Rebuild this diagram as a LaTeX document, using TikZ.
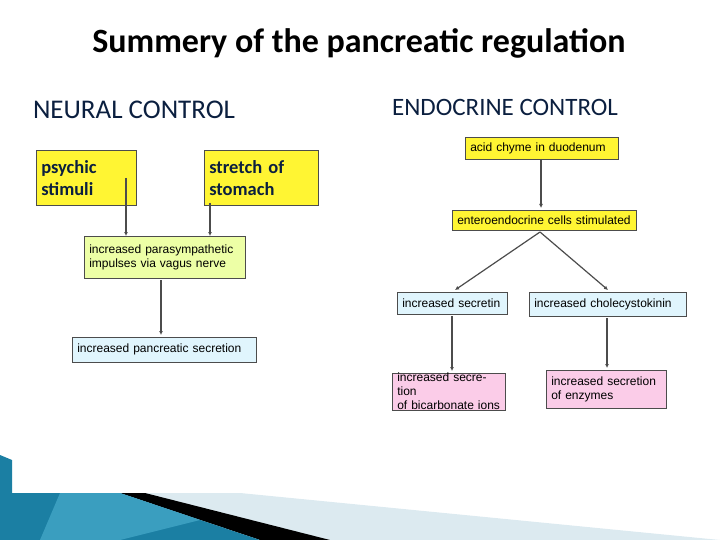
\documentclass[tikz,border=0pt]{standalone}
\usepackage{fontspec}
\setmainfont{Liberation Sans}
\newfontfamily\calfont{Carlito}
\usetikzlibrary{arrows.meta}
\definecolor{navy}{HTML}{0B1F3F}
\definecolor{teal1}{HTML}{1B7FA3}
\definecolor{teal2}{HTML}{4FB3D3}
\definecolor{pale}{HTML}{DCEAF0}
\begin{document}
\begin{tikzpicture}[x=1pt,y=-1pt,
 bx/.style={draw=black!70,line width=0.5pt,anchor=north west,inner xsep=5pt,inner ysep=0pt,font=\fontsize{12}{14}\selectfont,align=left},
 yel/.style={fill=yellow!80!white},
 grn/.style={fill=green!20!yellow!35!white},
 blu/.style={fill=cyan!12!white},
 pnk/.style={fill=magenta!20!white},
 big/.style={font=\calfont\bfseries\fontsize{18.5}{22}\selectfont,text=navy,align=left},
 ar/.style={draw=black!70,line width=1.2pt,-{Latex[length=4pt,width=4pt]}}]
\useasboundingbox (0,0) rectangle (720,540);
% decoration
\fill[pale] (120,493) -- (240,493) -- (720,540) -- (330,540) -- cycle;
\fill[black] (120,493) -- (145,493) -- (330,540) -- (260,540) -- cycle;
\fill[teal1] (0,455) -- (12,460) -- (12,493) -- (120,493) -- (260,540) -- (0,540) -- cycle;
\fill[teal2,opacity=0.6] (60,493) -- (120,493) -- (200,520) -- (120,540) -- (40,540) -- cycle;
% titles
\node[font=\calfont\bfseries\fontsize{34}{40}\selectfont] (title) at (359,43) {Summery of the pancreatic regulation};
\node[font=\calfont\fontsize{27}{32}\selectfont,text=navy] (nc) at (134,110) {NEURAL CONTROL};
\node[font=\calfont\fontsize{25}{30}\selectfont,text=navy] (ec) at (505,107) {ENDOCRINE CONTROL};
% neural
\node[bx,yel,big,minimum width=100pt,minimum height=55pt,text width=90pt] (ps) at (36,150) {psychic\\stimuli};
\node[bx,yel,big,minimum width=114pt,minimum height=55pt,text width=104pt] (st) at (204,150) {stretch of\\stomach};
\node[bx,grn,minimum width=161pt,minimum height=42pt,text width=151pt] (pa) at (84,236) {increased parasympathetic\\impulses via vagus nerve};
\node[bx,blu,minimum width=184pt,minimum height=25pt,text width=174pt] (pc) at (72,337) {increased pancreatic secretion};
% endocrine
\node[bx,yel,minimum width=153pt,minimum height=22pt,text width=143pt] (ac) at (465,137) {acid chyme in duodenum};
\node[bx,yel,minimum width=184pt,minimum height=20pt,text width=174pt] (en) at (452,210) {enteroendocrine cells stimulated};
\node[bx,blu,minimum width=110pt,minimum height=22pt,text width=100pt] (se) at (397,292) {increased secretin};
\node[bx,blu,minimum width=157pt,minimum height=24pt,text width=147pt] (cc) at (529,292) {increased cholecystokinin};
\node[bx,pnk,minimum width=113pt,minimum height=36pt,text width=103pt] (bi) at (392,373) {increased secretion\\of bicarbonate ions};
\node[bx,pnk,minimum width=120pt,minimum height=38pt,text width=110pt] (ez) at (546,370) {increased secretion\\of enzymes};
% connectors
\coordinate (p1) at (126,178);
\coordinate (s1) at (210,203);
\coordinate (e1) at (540,232);
\draw[ar] (p1) -- (p1 |- pa.north);
\draw[ar] (s1) -- (s1 |- pa.north);
\draw[ar] (161,280) -- (161,335);
\draw[ar] (541,159) -- (541,208);
\draw[ar] (e1) -- (455,290);
\draw[ar] (e1) -- (608,290);
\draw[ar] (452,316) -- (452,371);
\draw[ar] (607,318) -- (607,368);
\end{tikzpicture}
\end{document}
